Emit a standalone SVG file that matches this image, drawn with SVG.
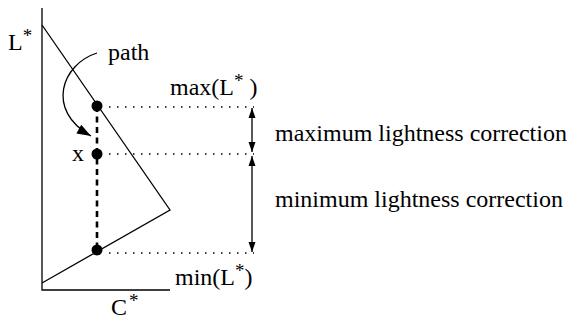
<svg xmlns="http://www.w3.org/2000/svg" width="573" height="326" viewBox="0 0 573 326">
<defs>
<style>
text{font-family:"Liberation Serif","Times New Roman",serif;font-size:24px;fill:#000}
.sup{font-size:19px}
.ln{stroke:#000;stroke-width:1.3;fill:none}
.dot{stroke:#000;stroke-width:1.5;stroke-dasharray:1.5 6.5;fill:none}
.dim{stroke:#000;stroke-width:1.3;fill:none;marker-start:url(#ah);marker-end:url(#ah)}
</style>
<marker id="ah" viewBox="0 0 10 10" refX="10" refY="5" markerWidth="10" markerHeight="10" markerUnits="userSpaceOnUse" orient="auto-start-reverse">
<path d="M0,1.5 L10,5 L0,8.5 Z" fill="#000"/>
</marker>
<marker id="ah2" viewBox="0 0 10 10" refX="10" refY="5" markerWidth="18" markerHeight="14" markerUnits="userSpaceOnUse" orient="auto">
<path d="M0,1.5 L10,5 L0,8.5 Z" fill="#000"/>
</marker>
</defs>
<g id="axes">
<path class="ln" d="M42,8 V290 H170"/>
</g>
<g id="gamut">
<path class="ln" d="M42,25 L170,210 L42,283" stroke-width="1.2"/>
</g>
<g id="connectors">
<path d="M97,106 V250" stroke="#000" stroke-width="2.6" stroke-dasharray="6 4.5" fill="none"/>
<path class="dot" d="M109,107 H254"/>
<path class="dot" d="M109,154 H254"/>
<path class="dot" d="M109,253 H254"/>
<path class="dim" d="M252,108 V152"/>
<path class="dim" d="M252,156 V252"/>
<path d="M97,53 C62,64 45,110 91,136" stroke="#000" stroke-width="1.3" fill="none" marker-end="url(#ah2)"/>
</g>
<g id="point-max"><circle cx="97" cy="106" r="5.5" fill="#000"/></g>
<g id="point-x"><circle cx="97" cy="154" r="5.5" fill="#000"/></g>
<g id="point-min"><circle cx="97" cy="250" r="5.5" fill="#000"/></g>
<g id="labels">
<text x="8" y="50">L<tspan class="sup" dy="-8">*</tspan></text>
<text x="108" y="60">path</text>
<text x="170" y="95">max(L<tspan class="sup" dy="-8">*</tspan><tspan dy="8"> )</tspan></text>
<text x="72" y="161">x</text>
<text x="275" y="141">maximum lightness correction</text>
<text x="275" y="207">minimum lightness correction</text>
<text x="175" y="285">min(L<tspan class="sup" dy="-8">*</tspan><tspan dy="8">)</tspan></text>
<text x="111" y="315">C<tspan class="sup" dx="2" dy="-8">*</tspan></text>
</g>
</svg>
